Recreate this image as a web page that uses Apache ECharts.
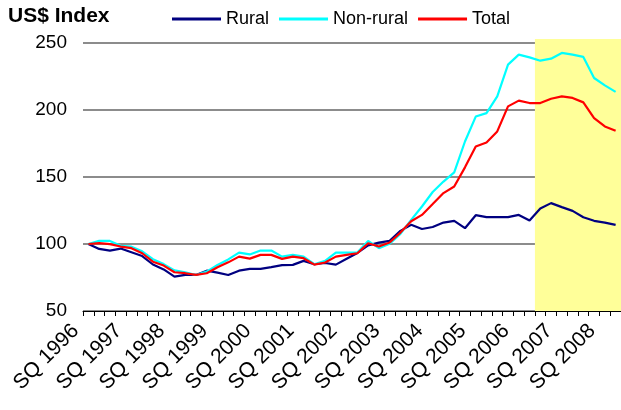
<!DOCTYPE html>
<html>
<head>
<meta charset="utf-8">
<script src="https://cdn.jsdelivr.net/npm/echarts@6/dist/echarts.min.js"></script>
<style>
  html, body { margin: 0; padding: 0; background: #fff; }
  #chart { width: 621px; height: 410px; }
</style>
</head>
<body>
<div id="chart"></div>
<script>
// Quarterly US$ price index (SQ 1996 = 100)
const quarters = [
  'SQ 1996','DQ 1996','MQ 1997','JQ 1997','SQ 1997','DQ 1997','MQ 1998','JQ 1998',
  'SQ 1998','DQ 1998','MQ 1999','JQ 1999','SQ 1999','DQ 1999','MQ 2000','JQ 2000',
  'SQ 2000','DQ 2000','MQ 2001','JQ 2001','SQ 2001','DQ 2001','MQ 2002','JQ 2002',
  'SQ 2002','DQ 2002','MQ 2003','JQ 2003','SQ 2003','DQ 2003','MQ 2004','JQ 2004',
  'SQ 2004','DQ 2004','MQ 2005','JQ 2005','SQ 2005','DQ 2005','MQ 2006','JQ 2006',
  'SQ 2006','DQ 2006','MQ 2007','JQ 2007','SQ 2007','DQ 2007','MQ 2008','JQ 2008',
  'SQ 2008','DQ 2008'
];

const rural = [
  100, 96.3, 95.1, 96.6, 93.8, 91.0, 84.7, 81.0, 75.6, 76.9,
  76.9, 80.1, 78.6, 76.9, 80.1, 81.4, 81.4, 82.7, 84.2, 84.4,
  87.4, 84.9, 85.8, 84.6, 89.0, 93.3, 99.0, 101.0, 102.3, 109.8,
  114.3, 111.2, 112.7, 116.0, 117.3, 111.8, 121.5, 120.0, 120.0, 120.0,
  121.7, 117.5, 126.5, 130.5, 127.5, 124.7, 120.0, 117.3, 116.0, 114.3
];

const nonRural = [
  100, 102.3, 102.3, 98.7, 98.0, 94.5, 88.7, 85.0, 80.3, 78.8,
  76.9, 79.4, 84.4, 88.5, 93.6, 92.2, 95.1, 95.1, 90.6, 91.9,
  90.6, 84.9, 87.4, 93.6, 93.6, 93.6, 102.3, 96.9, 100.2, 107.5,
  118.0, 128.0, 138.8, 146.6, 153.4, 176.5, 195.1, 197.7, 210.2, 233.9,
  241.3, 239.3, 236.8, 238.3, 242.6, 241.3, 239.6, 223.9, 218.4, 213.5
];

const total = [
  100, 100.6, 99.9, 98.1, 96.9, 93.1, 86.8, 83.9, 78.9, 78.2,
  76.9, 78.2, 82.7, 86.3, 90.6, 89.1, 91.9, 91.9, 88.9, 90.6,
  89.4, 84.6, 86.2, 90.6, 91.9, 93.1, 100.6, 98.1, 101.1, 108.5,
  117.0, 121.7, 129.8, 138.0, 142.9, 157.2, 172.7, 175.8, 184.0, 202.7,
  207.0, 205.2, 205.2, 208.4, 210.2, 209.0, 205.7, 194.0, 187.7, 184.5
];

const yTicks = { min: 50, max: 250, step: 50 };
const shadedFrom = 'MQ 2007';   // first quarter of the highlighted period

const FONT = '"Liberation Sans", Arial, sans-serif';
const shadeStart = quarters.indexOf(shadedFrom);

const chart = echarts.init(document.getElementById('chart'), null, { renderer: 'canvas' });

chart.setOption({
  animation: false,
  backgroundColor: '#ffffff',
  textStyle: { fontFamily: FONT },
  title: {
    text: 'US$ Index',
    left: 8, top: 6, padding: 0,
    textStyle: { fontFamily: FONT, fontSize: 21, fontWeight: 'bold', color: '#000' }
  },
  legend: {
    left: 172, top: 10, padding: 0,
    itemWidth: 49, itemHeight: 3, itemGap: 10,
    icon: 'rect',
    textStyle: { fontFamily: FONT, fontSize: 18, color: '#000' },
    data: ['Rural', 'Non-rural', 'Total']
  },
  grid: [
    { left: 83, top: 43, width: 539, height: 268, containLabel: false },
    { left: 83, top: 39, width: 539, height: 272, containLabel: false }
  ],
  xAxis: [
    {
      type: 'category', gridIndex: 0, data: quarters, boundaryGap: true, z: 5,
      axisLine: { show: true, lineStyle: { color: '#000', width: 1 } },
      axisTick: { show: true, interval: 0, length: 5, lineStyle: { color: '#000' } },
      axisLabel: {
        interval: 3, rotate: 45, margin: 4, padding: [0, 18, 0, 0],
        fontFamily: FONT, fontSize: 21, color: '#000'
      },
      splitLine: { show: false }
    },
    { type: 'value', gridIndex: 1, min: 0, max: quarters.length, show: false }
  ],
  yAxis: [
    {
      type: 'value', gridIndex: 0,
      min: yTicks.min, max: yTicks.max, interval: yTicks.step,
      axisLine: { show: false }, axisTick: { show: false },
      axisLabel: { margin: 16, fontFamily: FONT, fontSize: 19, color: '#000' },
      splitLine: { show: true, lineStyle: { color: '#666', width: 1.5 } }
    },
    { type: 'value', gridIndex: 1, min: 0, max: 1, show: false }
  ],
  series: [
    {
      name: 'highlight', type: 'line', xAxisIndex: 1, yAxisIndex: 1, z: 2,
      data: [[shadeStart, 0]], symbol: 'none', lineStyle: { opacity: 0 },
      silent: true, legendHoverLink: false,
      markArea: {
        silent: true,
        itemStyle: { color: '#FFFF99', opacity: 1 },
        data: [[{ coord: [shadeStart, 0] }, { coord: [quarters.length, 1] }]]
      }
    },
    {
      name: 'Rural', type: 'line', data: rural, z: 3,
      symbol: 'none', lineStyle: { color: '#000080', width: 2.2 },
      itemStyle: { color: '#000080' }
    },
    {
      name: 'Non-rural', type: 'line', data: nonRural, z: 3,
      symbol: 'none', lineStyle: { color: '#00FFFF', width: 2.2 },
      itemStyle: { color: '#00FFFF' }
    },
    {
      name: 'Total', type: 'line', data: total, z: 3,
      symbol: 'none', lineStyle: { color: '#FF0000', width: 2.2 },
      itemStyle: { color: '#FF0000' }
    }
  ]
});
</script>
</body>
</html>
